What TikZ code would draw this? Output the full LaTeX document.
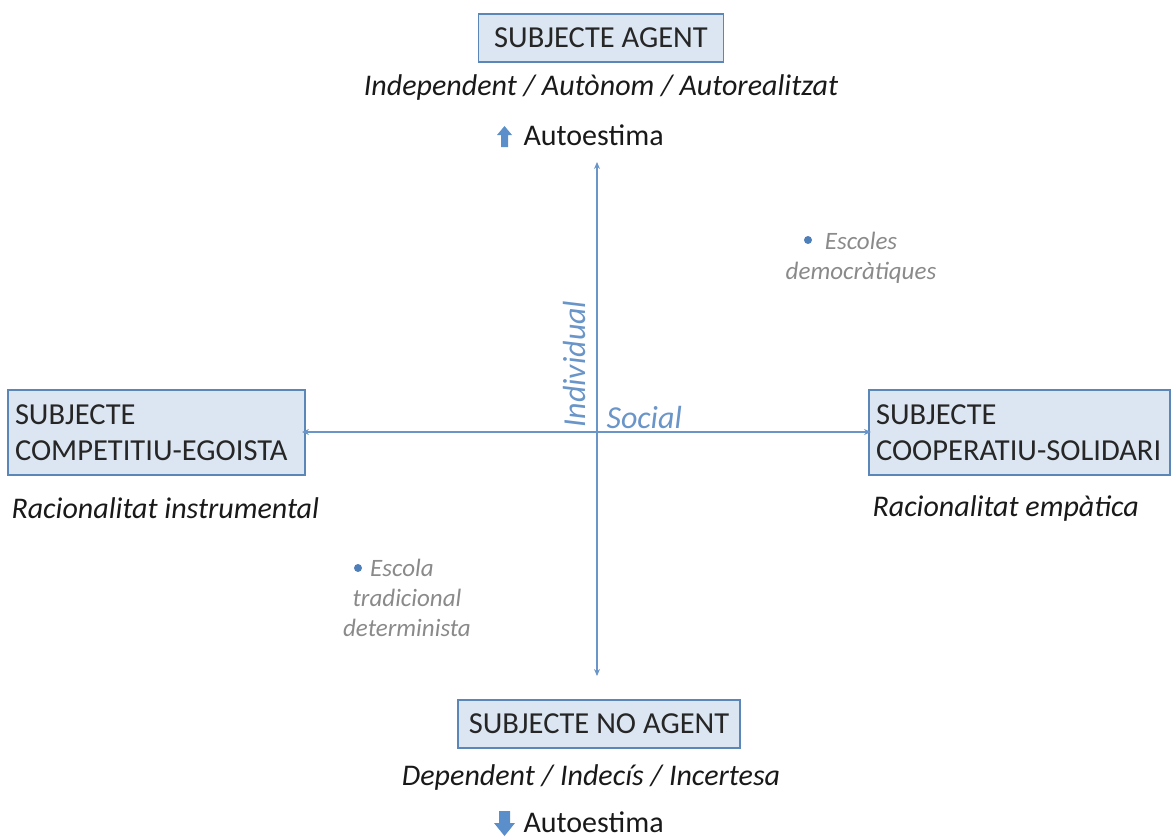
\documentclass[tikz,border=0pt]{standalone}
\usepackage{fontspec}
\setmainfont{Carlito}
\usetikzlibrary{arrows.meta}
\definecolor{boxfill}{HTML}{DCE6F2}
\definecolor{boxdraw}{HTML}{5A86B8}
\definecolor{axis}{HTML}{6A95C8}
\definecolor{iconblue}{HTML}{5B8FCB}
\definecolor{graytxt}{HTML}{8A8A8A}
\definecolor{bullet}{HTML}{4F7FB8}
\tikzset{
  subj/.style={draw=boxdraw, line width=1.2pt, fill=boxfill, inner xsep=10pt, inner ysep=6pt, font=\fontsize{30.5}{36}\selectfont, text=black!85},
  sidebox/.style={subj, align=left, inner xsep=7pt, minimum height=85pt},
  desc/.style={font=\fontsize{30}{36}\selectfont\itshape, text=black!90},
  plain/.style={font=\fontsize{30}{36}\selectfont, text=black!90},
  note/.style={font=\fontsize{25}{30}\selectfont\itshape, text=graytxt, align=center},
  axlbl/.style={font=\fontsize{32}{36}\selectfont\itshape, text=axis},
  axarrow/.style={draw=axis, line width=1.1pt, {Stealth[length=7pt,width=6pt]}-{Stealth[length=7pt,width=6pt]}},
  icon/.style={fill=iconblue, draw=none}
}
\begin{document}
\begin{tikzpicture}[x=1pt,y=-1pt]
\useasboundingbox (0,0) rectangle (1173,839);
% boxes
\node[subj, minimum width=245pt, minimum height=48pt] (agent) at (601,38) {SUBJECTE AGENT};
\node[subj, minimum width=282pt, minimum height=48pt] (noagent) at (599,724) {SUBJECTE NO AGENT};
\node[sidebox, text width=283pt] (comp) at (156.5,432.5) {SUBJECTE\\\mbox{COMPETITIU-EGOISTA}};
\node[sidebox, text width=287pt] (coop) at (1019.5,432.5) {SUBJECTE\\\mbox{COOPERATIU-SOLIDARI}};
% descriptions
\node[desc] (agentd) at (601,87) {Independent / Autònom / Autorealitzat};
\node[desc] (noagentd) at (591,777) {Dependent / Indecís / Incertesa};
\node[desc, anchor=west] (compd) at (8,508) {Racionalitat instrumental};
\node[desc, anchor=west] (coopd) at (869,508) {Racionalitat empàtica};
\node[plain, anchor=west] (aup) at (520,135) {Autoestima};
\node[plain, anchor=west] (adown) at (520,822) {Autoestima};
% icons
\fill[icon] (504.5,126) -- (512,135) -- (508,135) -- (508,147) -- (501,147) -- (501,135) -- (497,135) -- cycle;
\fill[icon] (499,811) -- (510,811) -- (510,823) -- (515,823) -- (504.5,836) -- (494,823) -- (499,823) -- cycle;
% axes
\coordinate (vtop) at (597,162);
\coordinate (vbot) at (597,676);
\coordinate (hl) at (302,432);
\coordinate (hr) at (871,432);
\draw[axarrow] (vtop) -- (vbot);
\draw[axarrow] (hl) -- (hr);
\node[axlbl, rotate=90, anchor=south] (ind) at (589,364) {Individual};
\node[axlbl, anchor=west] (soc) at (603,417) {Social};
% notes
\node[note, anchor=north] (esd) at (861,229) {Escoles\\democràtiques};
\fill[bullet] (808,240) circle (4pt);
\node[note, anchor=north] (etd) at (407,556) {\hspace{-10pt}Escola\\tradicional\\determinista};
\fill[bullet] (358,568) circle (4pt);
\end{tikzpicture}
\end{document}
